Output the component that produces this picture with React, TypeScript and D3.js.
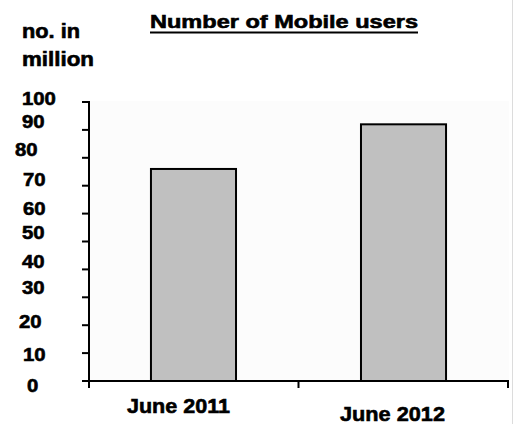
import React from "react";
import * as d3 from "d3";

const title = "Number of Mobile users";
const yTitleLines = ["no. in", "million"];
const categories = ["June 2011", "June 2012"];
const users = [76, 92];
const yTickValues = [0, 10, 20, 30, 40, 50, 60, 70, 80, 90, 100];

// layout nudges (hand-placed labels in the original)
const yLabelDx = [27, 23, 19, 22, 22, 22, 23, 23, 15, 22, 22];
const yLabelDy = [4, 1, -3.5, -9.5, -7.5, -9, -5.5, -6, -8, -8.5, -4];
const xLabelDx = [-15, -11];
const xLabelBase = [413, 421];
const xLabelLen = [103, 105];

const W = 514;
const H = 424;
const FONT = "'Liberation Sans', Arial, Helvetica, sans-serif";

export default function App() {
  const left = 89;
  const right = 508;
  const top = 102;
  const bottom = 381;

  const y = d3.scaleLinear().domain([0, 100]).range([bottom, top]);
  const x = d3
    .scaleBand<string>()
    .domain(categories)
    .range([left, right])
    .paddingInner(0.595)
    .paddingOuter(0.295);

  const xTicks = [left, (x(categories[0])! + x.bandwidth() + x(categories[1])!) / 2, right];
  const heavy = { stroke: "#000", strokeWidth: 0.6, paintOrder: "stroke" as const };

  return (
    <svg
      width={W}
      height={H}
      viewBox={`0 0 ${W} ${H}`}
      style={{ position: "absolute", left: 0, top: 0, background: "#fff" }}
      fontFamily={FONT}
      fontWeight="bold"
    >
      <rect x={0} y={0} width={W} height={H} fill="#ffffff" />
      {/* plot area background */}
      <rect x={left} y={top - 1} width={right + 1 - left} height={bottom - top + 1} fill="#fcfcfc" />
      {/* right edge line */}
      <line x1={512.5} x2={512.5} y1={0} y2={H} stroke="#dcdcdc" strokeWidth={1} />

      {/* title */}
      <text x={150} y={28} fontSize={18.5} textLength={268} lengthAdjust="spacingAndGlyphs" fill="#000" {...heavy}>
        {title}
      </text>
      <line x1={150} x2={418} y1={32.5} y2={32.5} stroke="#000" strokeWidth={1.8} />

      {/* y title */}
      <text x={22} y={38} fontSize={19.5} textLength={58} lengthAdjust="spacingAndGlyphs" fill="#000" {...heavy}>
        {yTitleLines[0]}
      </text>
      <text x={22} y={66} fontSize={19.5} textLength={72} lengthAdjust="spacingAndGlyphs" fill="#000" {...heavy}>
        {yTitleLines[1]}
      </text>

      {/* bars */}
      {categories.map((c, i) => (
        <rect
          key={c}
          x={x(c)!}
          y={y(users[i])}
          width={x.bandwidth()}
          height={y(0) - y(users[i])}
          fill="#c0c0c0"
          stroke="#000"
          strokeWidth={2}
        />
      ))}

      {/* y axis */}
      <line x1={left} x2={left} y1={top - 1} y2={bottom + 7} stroke="#000" strokeWidth={2} />
      {yTickValues.map((v) => (
        <line key={"t" + v} x1={left - 7} x2={left} y1={y(v)} y2={y(v)} stroke="#000" strokeWidth={2} />
      ))}
      {yTickValues.map((v, i) => {
        const s = String(v);
        return (
          <text
            key={"l" + v}
            x={yLabelDx[i]}
            y={y(v) + yLabelDy[i] + 6.5}
            fontSize={18.5}
            textLength={s.length * 11.3}
            lengthAdjust="spacingAndGlyphs"
            fill="#000"
            {...heavy}
          >
            {s}
          </text>
        );
      })}

      {/* x axis */}
      <line x1={left - 7} x2={right + 1} y1={bottom} y2={bottom} stroke="#000" strokeWidth={2} />
      {xTicks.map((t, i) => (
        <line key={"xt" + i} x1={t} x2={t} y1={bottom} y2={bottom + 7} stroke="#000" strokeWidth={2} />
      ))}
      {categories.map((c, i) => (
        <text
          key={"xl" + c}
          x={x(c)! + x.bandwidth() / 2 + xLabelDx[i]}
          y={xLabelBase[i]}
          fontSize={21}
          textAnchor="middle"
          textLength={xLabelLen[i]}
          lengthAdjust="spacingAndGlyphs"
          fill="#000"
          {...heavy}
        >
          {c}
        </text>
      ))}
    </svg>
  );
}
